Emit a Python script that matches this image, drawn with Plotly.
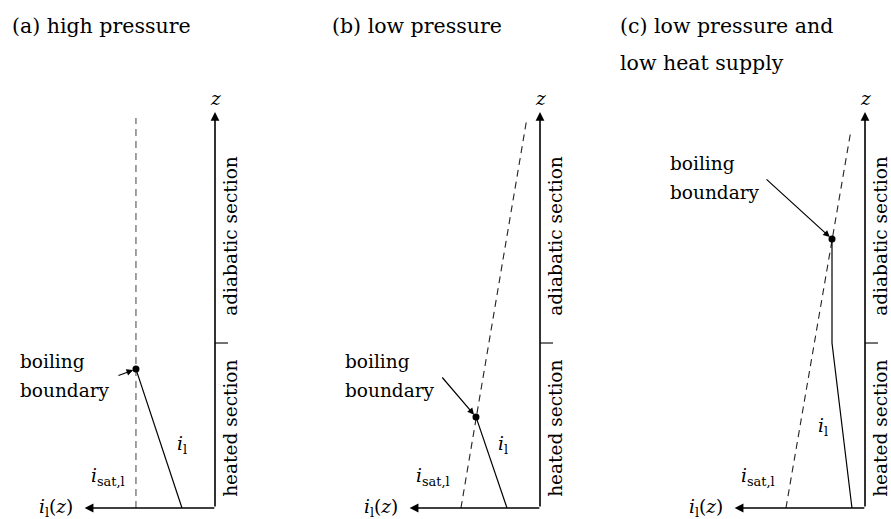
import plotly.graph_objects as go

# ---------------- data (local schematic coordinates) ----------------
# i : enthalpy, measured leftwards from the z axis ; z : height (heated section = 0..1)
titles = [["(a) high pressure"], ["(b) low pressure"], ["(c) low pressure and", "low heat supply"]]

isat_i = [[0.479, 0.479], [0.479, 0.079], [0.479, 0.085]]
isat_z = [[0.0, 2.364], [0.0, 2.364], [0.0, 2.29]]

il_i = [[0.2, 0.479], [0.2, 0.388], [0.079, 0.2, 0.2]]
il_z = [[0.0, 0.842], [0.0, 0.552], [0.0, 1.0, 1.63]]

bb_i = [0.479, 0.388, 0.2]          # boiling boundary
bb_z = [0.842, 0.552, 1.63]

z_heated_top = 1.0
z_axis_top = 2.4
i_axis_end = 0.79

# ---------------- layout helpers ----------------
W, H = 891, 519
FONT = "DejaVu Serif"
LBL = 18.5
x_ranges = [[1.3030, -0.4970], [1.4727, -0.3273], [1.6424, -0.1576]]
y_range = [-0.0667, 3.079]
title_left = [10, 330, 618]

fig = go.Figure()
annotations = []

for k in range(3):
    xa = "x" if k == 0 else f"x{k+1}"
    # saturation enthalpy (dashed)
    fig.add_trace(go.Scatter(x=isat_i[k], y=isat_z[k], xaxis=xa, yaxis="y", mode="lines",
                             line=dict(color="#222222" if k else "#555555", width=1.1, dash="7px,5px"),
                             hoverinfo="skip", showlegend=False))
    # liquid enthalpy (solid)
    fig.add_trace(go.Scatter(x=il_i[k], y=il_z[k], xaxis=xa, yaxis="y", mode="lines",
                             line=dict(color="black", width=1.2),
                             hoverinfo="skip", showlegend=False))
    # heated / adiabatic separating tick
    fig.add_trace(go.Scatter(x=[0, -0.079], y=[z_heated_top, z_heated_top], xaxis=xa, yaxis="y",
                             mode="lines", line=dict(color="black", width=1.1),
                             hoverinfo="skip", showlegend=False))
    # boiling boundary point
    fig.add_trace(go.Scatter(x=[bb_i[k]], y=[bb_z[k]], xaxis=xa, yaxis="y", mode="markers",
                             marker=dict(color="black", size=7),
                             hoverinfo="skip", showlegend=False))

    ref = dict(xref=xa, yref="y")
    aref = dict(axref=xa, ayref="y")
    # z axis arrow
    annotations.append(dict(x=0, y=z_axis_top, ax=0, ay=0, text="", showarrow=True,
                            arrowhead=2, arrowsize=1.1, arrowwidth=1.6, arrowcolor="black",
                            standoff=0, startstandoff=0, **ref, **aref))
    # i axis arrow
    annotations.append(dict(x=i_axis_end, y=0, ax=-0.005, ay=0, text="", showarrow=True,
                            arrowhead=2, arrowsize=1.1, arrowwidth=1.6, arrowcolor="black",
                            standoff=0, startstandoff=0, **ref, **aref))
    # boiling boundary pointer
    tails = [(0.594, 0.80), (0.60, 0.80), (0.606, 2.0)]
    annotations.append(dict(x=bb_i[k], y=bb_z[k], ax=tails[k][0], ay=tails[k][1], text="",
                            showarrow=True, arrowhead=2, arrowsize=1.1, arrowwidth=1.2,
                            arrowcolor="black", standoff=3, **ref, **aref))
    # texts
    f = dict(family=FONT, size=LBL, color="black")
    annotations.append(dict(x=0, y=2.485, text="<i>z</i>", showarrow=False, font=f, **ref))
    annotations.append(dict(x=0.85, y=0, text="<i>i</i><sub>l</sub>(<i>z</i>)", showarrow=False,
                            xanchor="right", yanchor="middle", font=f, **ref))
    annotations.append(dict(x=0.65, y=0.19, text="<i>i</i><sub>sat,l</sub>", showarrow=False,
                            font=f, **ref))
    il_lab = [(0.2, 0.382), (0.224, 0.382), (0.255, 0.49)]
    annotations.append(dict(x=il_lab[k][0], y=il_lab[k][1], text="<i>i</i><sub>l</sub>",
                            showarrow=False, font=f, **ref))
    bb_lab_z = [(0.885, 0.715), (0.885, 0.715), (2.09, 1.915)]
    annotations.append(dict(x=1.194, y=bb_lab_z[k][0], text="boiling", showarrow=False,
                            xanchor="left", font=f, **ref))
    annotations.append(dict(x=1.194, y=bb_lab_z[k][1], text="boundary", showarrow=False,
                            xanchor="left", font=f, **ref))
    annotations.append(dict(x=-0.097, y=1.65, text="adiabatic section", textangle=-90,
                            showarrow=False, font=f, borderpad=0, **ref))
    annotations.append(dict(x=-0.097, y=0.48, text="heated section", textangle=-90,
                            showarrow=False, font=f, borderpad=0, **ref))
    # titles
    for j, line in enumerate(titles[k]):
        annotations.append(dict(x=title_left[k] / W, y=1 - (26 + 37 * j) / H, xref="paper", yref="paper",
                                text=line, showarrow=False, xanchor="left", yanchor="middle",
                                font=dict(family=FONT, size=20.5, color="black")))

layout = dict(width=W, height=H, margin=dict(l=0, r=0, t=0, b=0),
              paper_bgcolor="white", plot_bgcolor="white", showlegend=False,
              annotations=annotations,
              yaxis=dict(range=y_range, visible=False, domain=[0, 1], fixedrange=True))
for k in range(3):
    key = "xaxis" if k == 0 else f"xaxis{k+1}"
    layout[key] = dict(range=x_ranges[k], visible=False, domain=[k / 3, (k + 1) / 3],
                       anchor="y", fixedrange=True)
fig.update_layout(**layout)
fig.write_html("out.html")
